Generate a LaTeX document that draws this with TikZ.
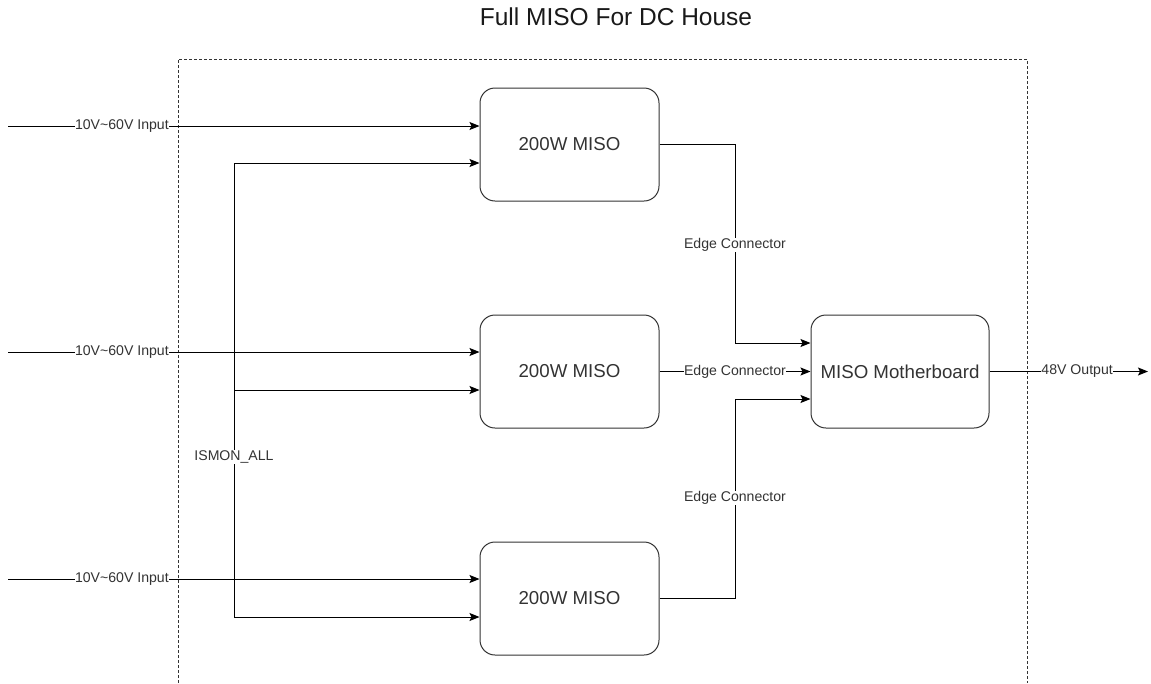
\documentclass[tikz,border=0pt]{standalone}
\usepackage{fontspec}
\setmainfont{Liberation Sans}
\usetikzlibrary{arrows.meta}
\definecolor{linecol}{HTML}{000000}
\definecolor{boxgray}{HTML}{333333}
\definecolor{textgray}{HTML}{333333}
\begin{document}
\begin{tikzpicture}[x=1pt,y=-1pt,
  box/.style={draw=boxgray, line width=1pt, rounded corners=15pt, minimum width=179pt, minimum height=113pt, inner sep=0pt, text=textgray, font=\fontsize{18.7}{22}\selectfont},
  lbl/.style={fill=white, inner sep=0.5pt, text=textgray, font=\fontsize{14.1}{16}\selectfont},
  wire/.style={draw=linecol, line width=1pt},
  arr/.style={wire, -{Stealth[length=10pt,width=8pt,inset=2pt]}},
  frame/.style={draw=textgray, line width=1pt, dash pattern=on 3pt off 2pt},
  titlestyle/.style={text=black!90, font=\fontsize{24.5}{28}\selectfont}]
\useasboundingbox (0,0) rectangle (1151,683);

\node[titlestyle] (title) at (616,17) {Full MISO For DC House};

% dashed frame
\draw[frame] (178,683) -- (178,59) -- (1027,59) -- (1027,683);

% boxes
\node[box] (m1) at (569.5,144.5) {200W MISO};
\node[box] (m2) at (569.5,371.5) {200W MISO};
\node[box] (m3) at (569.5,598.5) {200W MISO};
\node[box, minimum width=178pt] (mb) at (900,371.5) {MISO Motherboard};

% inputs
\coordinate (in1) at (8,126);
\coordinate (in2) at (8,352);
\coordinate (in3) at (8,579);
\draw[arr] (in1) -- node[lbl, pos=0.2415] {10V\textasciitilde 60V Input} (in1 -| m1.west);
\draw[arr] (in2) -- node[lbl, pos=0.2415] {10V\textasciitilde 60V Input} (in2 -| m2.west);
\draw[arr] (in3) -- node[lbl, pos=0.2415] {10V\textasciitilde 60V Input} (in3 -| m3.west);

% ISMON bus
\coordinate (b1) at (234,163);
\coordinate (b2) at (234,390);
\coordinate (b3) at (234,617);
\draw[arr] (b1) -- (b1 -| m1.west);
\draw[arr] (b2) -- (b2 -| m2.west);
\draw[arr] (b3) -- (b3 -| m3.west);
\draw[wire, line cap=rect] (b1) -- node[lbl, pos=0.6476] {ISMON\_ALL} (b3);

% edge connectors
\coordinate (e1) at (735,343);
\coordinate (e3) at (735,399);
\draw[arr] (m1.east) -| (e1) -- (e1 -| mb.west);
\draw[arr] (m3.east) -| (e3) -- (e3 -| mb.west);
\draw[arr] (m2.east) -- node[lbl] {Edge Connector} (mb.west);
\node[lbl] (ec1) at (735,245) {Edge Connector};
\node[lbl] (ec3) at (735,498) {Edge Connector};

% output
\coordinate (out) at (1148,371.5);
\draw[arr] (mb.east) -- node[lbl, pos=0.553] {48V Output} (out);
\end{tikzpicture}
\end{document}
